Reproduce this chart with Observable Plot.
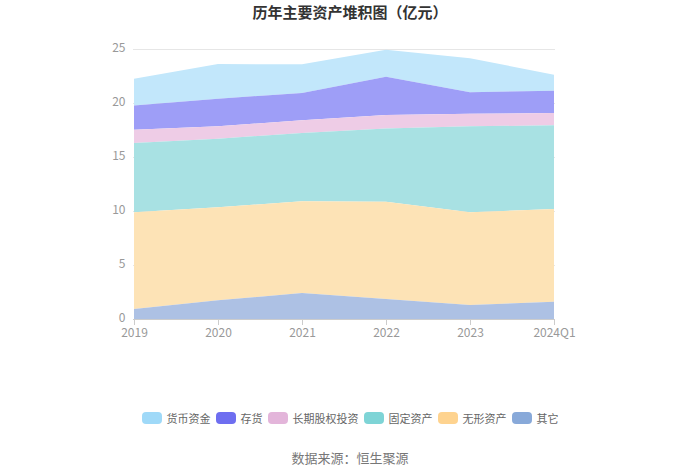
<!DOCTYPE html>
<html><head><meta charset="utf-8">
<script src="https://cdn.jsdelivr.net/npm/d3@7"></script>
<script src="https://cdn.jsdelivr.net/npm/@observablehq/plot@0.6"></script>
<style>
body{margin:0;background:#fff;font-family:"Noto Sans CJK SC","Noto Sans",sans-serif;width:700px;}
#title{height:30px;line-height:24px;text-align:center;font-size:15px;font-weight:bold;color:#333;}
#legend{display:flex;justify-content:center;align-items:center;margin-top:48px;height:20px;font-size:11px;color:#666;}
#legend .it{display:flex;align-items:center;margin-right:5px;}
#legend .it:last-child{margin-right:0;}
#legend .sw{width:20px;height:12px;border-radius:4px;margin-right:5px;}
#caption{text-align:center;font-size:13px;color:#777;margin-top:20px;}
</style></head>
<body>
<div id="title">历年主要资产堆积图（亿元）</div>
<div id="chart"></div>
<div id="legend"></div>
<div id="caption">数据来源：恒生聚源</div>
<script>
const years = ["2019","2020","2021","2022","2023","2024Q1"];
const seriesNames = ["货币资金","存货","长期股权投资","固定资产","无形资产","其它"];
const cash = [2.47,3.21,2.65,2.50,3.15,1.48];
const inventory = [2.25,2.56,2.53,3.55,1.98,2.07];
const ltEquity = [1.23,1.14,1.18,1.24,1.17,1.14];
const fixedAssets = [6.42,6.36,6.32,6.79,7.96,7.74];
const intangible = [8.95,8.61,8.49,9.01,8.58,8.59];
const other = [0.93,1.73,2.41,1.85,1.30,1.60];
const yTicks = [0,5,10,15,20,25];
const legendColors = ["#9fd9f8","#6e6ef0","#e3b5da","#7ed4d6","#fed38f","#88a9d9"];
const areaColors = ["#c2e7fb","#9e9ef7","#eecce6","#a8e1e3","#fde3b6","#adc1e4"];

const valuesBySeries = [cash,inventory,ltEquity,fixedAssets,intangible,other];
const stackOrder = ["其它","无形资产","固定资产","长期股权投资","存货","货币资金"];
const data = [];
seriesNames.forEach((s,i)=>years.forEach((y,j)=>data.push({year:y,series:s,value:valuesBySeries[i][j]})));

const chart = Plot.plot({
  width:700, height:330,
  marginTop:19, marginBottom:41, marginLeft:133, marginRight:145,
  style:{fontFamily:'"Noto Sans CJK SC","Noto Sans",sans-serif',fontSize:"12px",color:"#999",background:"#fff"},
  x:{type:"point",domain:years,padding:0,label:null},
  y:{domain:[0,25],ticks:yTicks,label:null},
  color:{domain:seriesNames,range:areaColors},
  marks:[
    Plot.gridY(yTicks,{stroke:"#e6e6e6",strokeOpacity:1}),
    Plot.areaY(data,Plot.stackY({x:"year",y:"value",z:"series",fill:"series",fillOpacity:1,order:stackOrder,curve:"linear"})),
    Plot.axisY(yTicks,{tickSize:0,tickPadding:8,fill:"#999",fontSize:12,dy:-1}),
    Plot.ruleY([0],{stroke:"#ccc"}),
    Plot.axisX(years,{tickSize:5,stroke:"#ccc",fill:"#999",fontSize:12,tickPadding:3,dy:1})
  ]
});
document.getElementById("chart").appendChild(chart);

const lg = document.getElementById("legend");
seriesNames.forEach((s,i)=>{
  const it=document.createElement("div");it.className="it";
  const sw=document.createElement("div");sw.className="sw";sw.style.background=legendColors[i];
  const t=document.createElement("span");t.textContent=s;
  it.appendChild(sw);it.appendChild(t);lg.appendChild(it);
});
</script>
</body></html>
